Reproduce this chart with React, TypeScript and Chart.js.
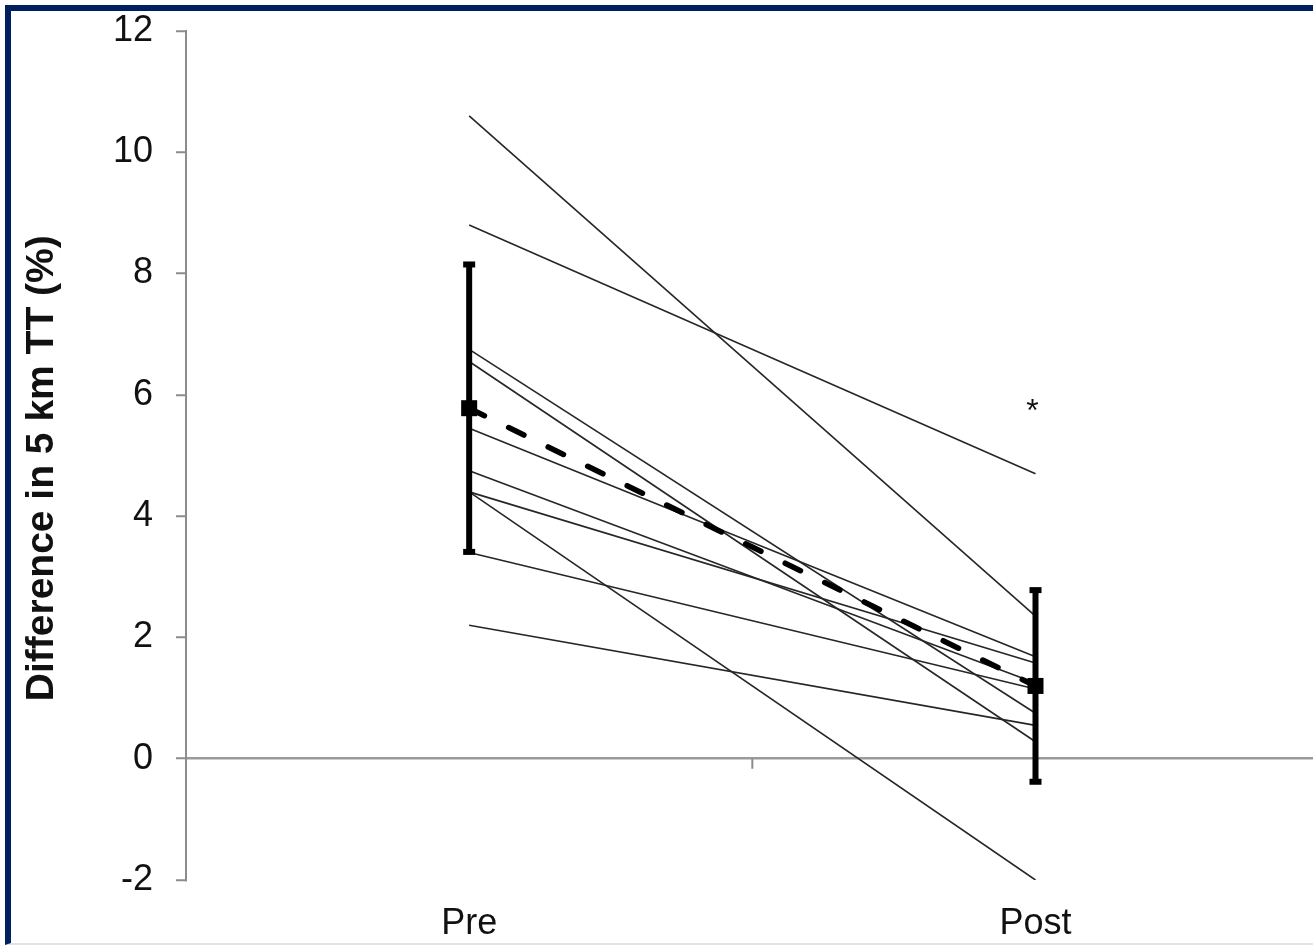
import React, { useEffect, useRef } from "react";
import { Chart, registerables } from "chart.js";

Chart.register(...registerables);

const categories = ["Pre", "Post"];
const preValues = [10.6, 8.8, 6.75, 6.55, 5.45, 4.75, 4.4, 4.4, 3.4, 2.2];
const postValues = [2.35, 4.7, 0.75, 0.28, 1.68, 1.25, 1.58, -2.0, 1.15, 0.55];
const meanValues = [5.78, 1.2];
const sdValues = [2.37, 1.58];
const yMin = -2;
const yMax = 12;
const yStep = 2;
const yTitle = "Difference in 5 km TT (%)";
const significanceMark = "*";
const significanceValue = 5.8; // drawn above the Post column

const FONT = "'Liberation Sans', Arial, Helvetica, sans-serif";

const overlayPlugin = {
  id: "overlay",
  afterDatasetsDraw(chart: any) {
    const { ctx, chartArea } = chart;
    const x = chart.scales.x;
    const y = chart.scales.y;
    ctx.save();
    // category boundary tick on the zero line
    const bx = x.getPixelForValue(0.5);
    const y0 = y.getPixelForValue(0);
    ctx.strokeStyle = "#8c8c8c";
    ctx.lineWidth = 2;
    ctx.beginPath();
    ctx.moveTo(bx, y0);
    ctx.lineTo(bx, y0 + 10);
    ctx.stroke();
    // error bars and mean markers
    ctx.strokeStyle = "#000";
    ctx.fillStyle = "#000";
    meanValues.forEach((m, i) => {
      const px = x.getPixelForValue(i);
      const top = y.getPixelForValue(m + sdValues[i]);
      const bot = y.getPixelForValue(m - sdValues[i]);
      ctx.lineWidth = 6;
      ctx.beginPath();
      ctx.moveTo(px, top);
      ctx.lineTo(px, bot);
      ctx.stroke();
      ctx.fillRect(px - 6, top - 3, 12, 6);
      ctx.fillRect(px - 6, bot - 3, 12, 6);
      const my = y.getPixelForValue(m);
      ctx.fillRect(px - 8, my - 8, 16, 16);
    });
    // significance mark
    const fs = 32;
    ctx.font = `${fs}px ${FONT}`;
    ctx.textAlign = "center";
    ctx.textBaseline = "alphabetic";
    ctx.fillStyle = "#111";
    ctx.fillText(
      significanceMark,
      x.getPixelForValue(1) - 3,
      y.getPixelForValue(significanceValue) + fs * 0.45
    );
    // y axis title
    ctx.save();
    ctx.translate(42, chartArea.top + (chartArea.bottom - chartArea.top) * 0.515);
    ctx.rotate(-Math.PI / 2);
    ctx.font = `bold 39px ${FONT}`;
    ctx.textAlign = "center";
    ctx.textBaseline = "middle";
    ctx.fillStyle = "#111";
    ctx.fillText(yTitle, 0, 0);
    ctx.restore();
    ctx.restore();
  },
};

export default function App() {
  const canvasRef = useRef<HTMLCanvasElement | null>(null);

  useEffect(() => {
    document.body.style.margin = "0";
    document.body.style.overflow = "hidden";
    const canvas = canvasRef.current;
    if (!canvas) return;

    const individual = preValues.map((p, i) => ({
      label: `Subject ${i + 1}`,
      data: [
        { x: 0, y: p },
        { x: 1, y: postValues[i] },
      ],
      borderColor: "#262626",
      borderWidth: 1.6,
      pointRadius: 0,
      fill: false,
      order: 2,
    }));

    const meanSet = {
      label: "Mean",
      data: meanValues.map((m, i) => ({ x: i, y: m })),
      borderColor: "#000",
      borderWidth: 5.5,
      borderDash: [17, 27],
      borderCapStyle: "round",
      pointRadius: 0,
      fill: false,
      order: 1,
    };

    const chart = new Chart(canvas, {
      type: "line",
      data: { datasets: [...individual, meanSet] as any },
      plugins: [overlayPlugin],
      options: {
        animation: false,
        responsive: false,
        maintainAspectRatio: false,
        layout: { padding: { top: 31, left: 0, right: 0, bottom: 0 } },
        plugins: {
          legend: { display: false },
          tooltip: { enabled: false },
        },
        scales: {
          x: {
            type: "linear",
            min: -0.5,
            max: 1.49,
            afterBuildTicks: (scale: any) => {
              scale.ticks = categories.map((_, i) => ({ value: i }));
            },
            afterFit: (scale: any) => {
              scale.height = 65;
              scale.paddingLeft = 0;
              scale.paddingRight = 0;
            },
            ticks: {
              autoSkip: false,
              padding: 22,
              color: "#111",
              font: { family: FONT, size: 36 },
              callback: (v: any) => categories[v as number] ?? "",
            },
            grid: { display: false, drawTicks: false },
            border: { display: false },
          },
          y: {
            type: "linear",
            min: yMin,
            max: yMax,
            afterFit: (scale: any) => {
              scale.width = 186;
              scale.paddingTop = 0;
              scale.paddingBottom = 0;
            },
            ticks: {
              stepSize: yStep,
              padding: 23,
              color: "#111",
              font: { family: FONT, size: 36 },
            },
            grid: {
              drawOnChartArea: true,
              drawTicks: true,
              tickLength: 10,
              lineWidth: 2.5,
              color: (c: any) => (c.tick && c.tick.value === 0 ? "#9a9a9a" : "rgba(0,0,0,0)"),
              tickColor: "#8c8c8c",
              tickWidth: 2,
            },
            border: { display: true, color: "#8c8c8c", width: 2 },
            title: { display: false },
          },
        },
      } as any,
    });
    return () => chart.destroy();
  }, []);

  return (
    <div style={{ position: "relative", width: 1313, height: 945, background: "#fff", overflow: "hidden" }}>
      <canvas ref={canvasRef} width={1313} height={945} style={{ position: "absolute", left: 0, top: 0 }} />
      <div
        style={{
          position: "absolute",
          left: 5,
          top: 5,
          right: 0,
          bottom: 0,
          borderTop: "6px solid #00205f",
          borderLeft: "6px solid #00205f",
          borderBottom: "2px solid #dfe3ec",
          pointerEvents: "none",
        }}
      />
    </div>
  );
}
